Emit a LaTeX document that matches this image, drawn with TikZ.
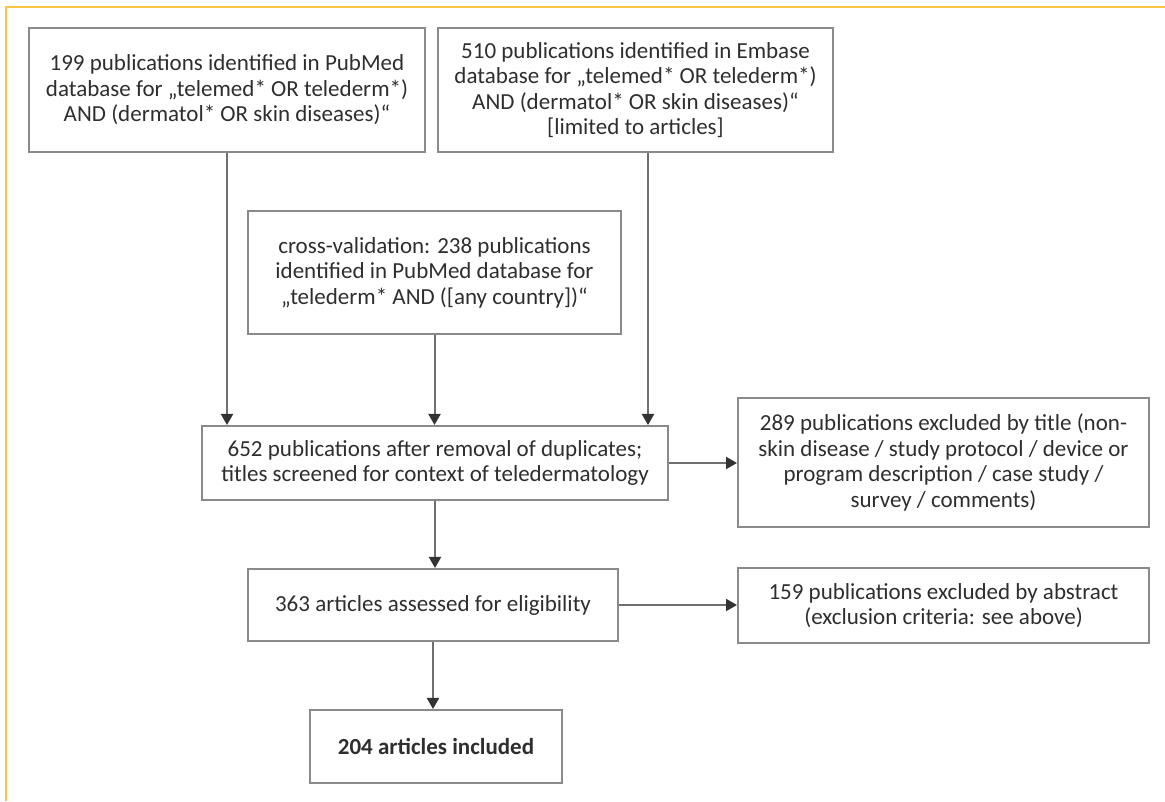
\documentclass[tikz,border=0pt]{standalone}
\usepackage{fontspec}
\setmainfont{Carlito}
\usetikzlibrary{arrows.meta}
\definecolor{rahmen}{HTML}{F9C443}
\definecolor{linie}{HTML}{8A8A8A}
\definecolor{pfeilfarbe}{HTML}{6F6F6F}
\definecolor{schrift}{HTML}{2E2E2E}
\begin{document}
\begin{tikzpicture}[x=1pt,y=1pt,
	kasten/.style={draw=linie,line width=2pt,inner sep=0pt,align=center,text=schrift,font=\fontsize{23}{25.5}\selectfont},
	pfeil/.style={draw=pfeilfarbe,line width=2pt,-{Triangle[width=12pt,length=11pt,color=black!80]}}]
	\useasboundingbox (0,0) rectangle (1165,801);
	\draw [rahmen,line width=2pt] (6,0) -- (6,794) -- (1165,794);%Rahmen oben und links

	\node[kasten,minimum width=396,minimum height=124] (pubmed) at (227,711) {199 publications identified in PubMed\\database for „telemed* OR telederm*)\\AND (dermatol* OR skin diseases)“};
	\node[kasten,minimum width=395,minimum height=124] (embase) at (635.5,711) {510 publications identified in Embase\\database for „telemed* OR telederm*)\\AND (dermatol* OR skin diseases)“\\{[limited to articles]}};
	\node[kasten,minimum width=373,minimum height=123] (kreuz) at (434.5,528.5) {cross-validation: 238 publications\\identified in PubMed database for\\„telederm* AND ([any country])“};
	\node[kasten,minimum width=466,minimum height=74] (duplikate) at (435,338) {652 publications after removal of duplicates;\\titles screened for context of teledermatology};
	\node[kasten,minimum width=411,minimum height=129] (titel) at (943.5,338.5) {289 publications excluded by title (non-\\skin disease / study protocol / device or\\program description / case study /\\survey / comments)};
	\node[kasten,minimum width=370,minimum height=72] (eignung) at (433,196) {363 articles assessed for eligibility};
	\node[kasten,minimum width=411,minimum height=75] (abstract) at (943.5,195.5) {159 publications excluded by abstract\\(exclusion criteria: see above)};
	\node[kasten,minimum width=252,minimum height=73] (inkl) at (436,54.5) {\textbf{204 articles included}};

	\draw [pfeil] (pubmed.south) -- (pubmed.south |- duplikate.north);%PubMed
	\draw [pfeil] ([xshift=12.5]embase.south) -- ([xshift=12.5]embase.south |- duplikate.north);%Embase
	\draw [pfeil] (kreuz.south) -- (kreuz.south |- duplikate.north);%Kreuzvalidierung
	\draw [pfeil] (duplikate.east) -- (duplikate.east -| titel.west);%Ausschluss Titel
	\draw [pfeil] (duplikate.south) -- (duplikate.south |- eignung.north);
	\draw [pfeil] (eignung.east) -- (eignung.east -| abstract.west);%Ausschluss Abstract
	\draw [pfeil] (eignung.south) -- (eignung.south |- inkl.north);

\end{tikzpicture}
\end{document}
